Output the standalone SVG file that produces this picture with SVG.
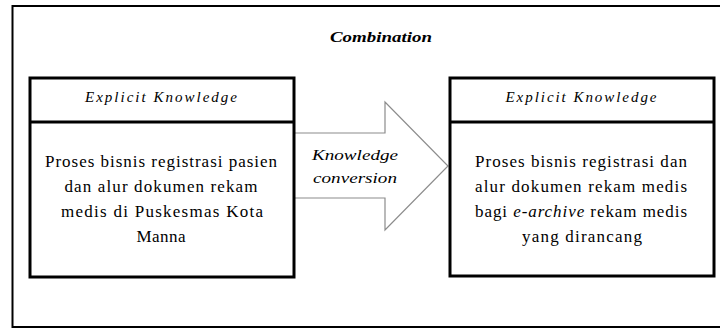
<svg xmlns="http://www.w3.org/2000/svg" width="720" height="329" viewBox="0 0 720 329" font-family="Liberation Serif, DejaVu Serif, serif">
<style>
.frame{fill:#fff;stroke:#000;stroke-width:2}
.box{fill:#fff;stroke:#000;stroke-width:3}
.div{stroke:#000;stroke-width:3}
.arrow{fill:#fff;stroke:#8c8c8c;stroke-width:1.2}
text{fill:#000;text-anchor:middle}
.hd{font-size:15px;font-style:italic}
.bd{font-size:17px}
.ttl{font-size:15px;font-style:italic;font-weight:bold}
.lbl{font-size:15px;font-style:italic}
.it{font-style:italic}
</style>
<rect width="720" height="329" fill="#fff"/>
<rect class="frame" x="12.5" y="6" width="720" height="321"/>
<text class="ttl" x="381" y="42" textLength="102" lengthAdjust="spacingAndGlyphs">Combination</text>
<g id="connectors">
<polygon class="arrow" points="290,133 385,133 385,102 448,166 385,230 385,198 290,198"/>
<text class="lbl" x="355" y="160" textLength="86" lengthAdjust="spacingAndGlyphs">Knowledge</text>
<text class="lbl" x="355" y="183" textLength="84" lengthAdjust="spacingAndGlyphs">conversion</text>
</g>
<g id="node-left">
<rect class="box" x="30" y="78" width="264" height="199"/>
<line class="div" x1="30" y1="122" x2="294" y2="122"/>
<text class="hd" x="161" y="102" textLength="152" lengthAdjust="spacing">Explicit Knowledge</text>
<text class="bd" x="161" y="167" textLength="232" lengthAdjust="spacing">Proses bisnis registrasi pasien</text>
<text class="bd" x="161" y="192" textLength="193" lengthAdjust="spacing">dan alur dokumen rekam</text>
<text class="bd" x="162" y="217" textLength="202" lengthAdjust="spacing">medis di Puskesmas Kota</text>
<text class="bd" x="161" y="242" textLength="49" lengthAdjust="spacing">Manna</text>
</g>
<g id="node-right">
<rect class="box" x="450" y="78" width="264" height="198"/>
<line class="div" x1="450" y1="122" x2="714" y2="122"/>
<text class="hd" x="581" y="102" textLength="151" lengthAdjust="spacing">Explicit Knowledge</text>
<text class="bd" x="581" y="167" textLength="212" lengthAdjust="spacing">Proses bisnis registrasi dan</text>
<text class="bd" x="581" y="192" textLength="212" lengthAdjust="spacing">alur dokumen rekam medis</text>
<text class="bd" x="581" y="217" textLength="212" lengthAdjust="spacing">bagi <tspan class="it">e-archive</tspan> rekam medis</text>
<text class="bd" x="582" y="242" textLength="120" lengthAdjust="spacing">yang dirancang</text>
</g>
</svg>
